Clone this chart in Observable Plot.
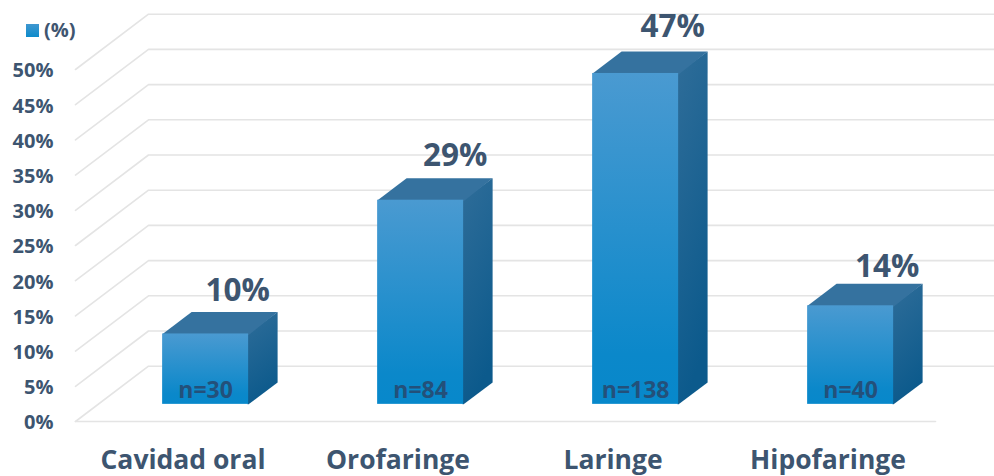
<!DOCTYPE html>
<html lang="es">
<head>
<meta charset="utf-8">
<script src="https://cdn.jsdelivr.net/npm/d3@7"></script>
<script src="https://cdn.jsdelivr.net/npm/@observablehq/plot@0.6"></script>
<style>
  html, body { margin: 0; padding: 0; background: #fff; }
  #chart { position: relative; width: 994px; height: 476px; overflow: hidden; }
  .key { position: absolute; left: 26px; top: 18px; display: flex; align-items: center; gap: 5px;
         font: 700 20px "Open Sans", sans-serif; color: #3f5570; line-height: 24px; }
  .key i { width: 13px; height: 13px; background: linear-gradient(#3f97d0, #0d8bcb); display: block; }
</style>
</head>
<body>
<div id="chart"><div class="key"><i></i><span>(%)</span></div></div>
<script>
// Share of cases by tumour site
const categories = ["Cavidad oral", "Orofaringe", "Laringe", "Hipofaringe"];
const percentages = [10, 29, 47, 14];
const counts = [30, 84, 138, 40];
const axisTicks = d3.range(0, 51, 5);

// Oblique projection: one unit of depth moves right by a share of a category slot and up in % units
const depthX = 0.3395;
const depthY = 7.855;
const barWidth = 0.4;
const barFront = 0.31;
const barBack = 0.707;
const project = (slot, value, depth) => ({x: slot + depth * depthX, y: value + depth * depthY});

const ink = "#3d5570";
const fontFamily = '"Open Sans", sans-serif';

const rows = categories.map((name, i) => ({
  name,
  value: percentages[i],
  n: counts[i],
  left: i + 0.5 - barWidth / 2,
  right: i + 0.5 + barWidth / 2
}));

// Side and top faces tuck slightly behind the front face so no pale seam shows at the shared edge
const tuckX = 0.005;
const tuckY = 0.15;

// Each face is a closed outline in chart units
const topFaces = rows.flatMap(d => [
  {name: d.name, ...project(d.left + tuckX, d.value - tuckY, barFront)},
  {name: d.name, ...project(d.right, d.value - tuckY, barFront)},
  {name: d.name, ...project(d.right, d.value, barBack)},
  {name: d.name, ...project(d.left, d.value, barBack)},
  {name: d.name, ...project(d.left, d.value, barFront)}
]);
const sideFaces = rows.flatMap(d => [
  {name: d.name, ...project(d.right - tuckX, 0, barFront)},
  {name: d.name, ...project(d.right - tuckX, d.value, barFront)},
  {name: d.name, ...project(d.right, d.value, barBack)},
  {name: d.name, ...project(d.right, 0, barBack)},
  {name: d.name, ...project(d.right, 0, barFront)}
]);

// Side wall and back wall gridlines, plus the front edge of the floor
const gridLines = axisTicks.flatMap(t => [
  {tick: t, ...project(0, t, 0)},
  {tick: t, ...project(0, t, 1)},
  {tick: t, ...project(4, t, 1)}
]);
const floorEdge = [{x: 0, y: 0}, {x: 4, y: 0}];

// Gradients shared by the bar faces
function gradients() {
  const defs = d3.create("svg:defs");
  const add = (id, x2, y2, stops) => {
    const g = defs.append("linearGradient").attr("id", id)
      .attr("x1", 0).attr("y1", 0).attr("x2", x2).attr("y2", y2);
    stops.forEach(([offset, color]) => g.append("stop").attr("offset", offset).attr("stop-color", color));
  };
  add("face-front", 0, 1, [[0, "#4a9ad1"], [0.85, "#0b88ca"], [1, "#0788cb"]]);
  add("face-side", 0.25, 1, [[0, "#2f6d99"], [1, "#0c5a8c"]]);
  return defs.node();
}

// Value labels sit above and to the right of each bar
const labelOffsets = [[32, -43], [34.5, -44], [37, -46.5], [36.5, -38.5]];
const valueLabels = rows.map((d, i) => Plot.text([d], {
  x: r => project(r.left + barWidth / 2, r.value, barFront).x,
  y: r => project(r.left + barWidth / 2, r.value, barFront).y,
  text: r => `${r.value}%`,
  dx: labelOffsets[i][0],
  dy: labelOffsets[i][1],
  fontSize: 31.5,
  fontWeight: 700,
  fill: ink
}));

const plot = Plot.plot({
  width: 994,
  height: 476,
  marginTop: 69,
  marginBottom: 55,
  marginLeft: 75,
  marginRight: 59,
  style: {fontFamily, background: "#fff", overflow: "hidden"},
  x: {type: "linear", domain: [0, 4]},
  y: {type: "linear", domain: [0, 50]},
  marks: [
    gradients,
    Plot.line(gridLines, {x: "x", y: "y", z: "tick", stroke: "#e4e4e4", strokeWidth: 1.6}),
    Plot.line(floorEdge, {x: "x", y: "y", stroke: "#e4e4e4", strokeWidth: 1.6}),
    Plot.line(sideFaces, {x: "x", y: "y", z: "name", fill: "url(#face-side)", stroke: "none"}),
    Plot.line(topFaces, {x: "x", y: "y", z: "name", fill: "#35729f", stroke: "none"}),
    Plot.rect(rows, {
      x1: d => project(d.left, 0, barFront).x,
      x2: d => project(d.right, 0, barFront).x,
      y1: d => project(d.left, 0, barFront).y,
      y2: d => project(d.left, d.value, barFront).y,
      fill: "url(#face-front)"
    }),
    Plot.text(rows, {
      x: d => project(d.left + barWidth / 2, 0, barFront).x,
      y: d => project(d.left, 0, barFront).y,
      text: d => `n=${d.n}`,
      dy: -13.5,
      fontSize: 23,
      fontWeight: 700,
      fill: "#23507a"
    }),
    ...valueLabels,
    Plot.axisY({
      ticks: axisTicks,
      tickFormat: d => `${d}%`,
      tickSize: 0,
      tickPadding: 22,
      dy: 1.5,
      label: null,
      fontSize: 20,
      fontWeight: 700,
      fill: ink
    }),
    Plot.axisX({
      ticks: categories.map((_, i) => i + 0.5),
      tickFormat: d => categories[d - 0.5],
      tickSize: 0,
      tickPadding: 29,
      label: null,
      fontSize: 26.5,
      fontWeight: 700,
      fill: ink
    })
  ]
});
document.getElementById("chart").prepend(plot);
</script>
</body>
</html>
